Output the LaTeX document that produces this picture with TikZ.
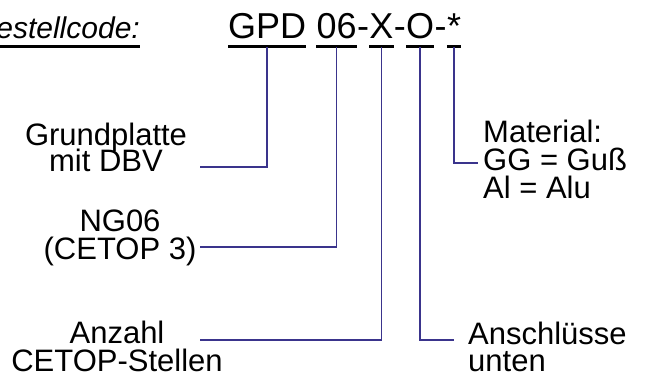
\documentclass[tikz,border=0pt]{standalone}
\usepackage{fontspec}
\setmainfont{Liberation Sans}
\usepackage{tikz}
\usetikzlibrary{positioning, calc}
\definecolor{linkblue}{RGB}{58,52,140}

\begin{document}
\begin{tikzpicture}[x=1pt, y=-1pt,
  code/.style={anchor=base west, inner sep=0pt, font=\fontsize{36}{40}\selectfont},
  lbl/.style={anchor=base, inner sep=0pt, font=\fontsize{31}{34}\selectfont},
  lblr/.style={anchor=base west, inner sep=0pt, font=\fontsize{31}{34}\selectfont},
  uline/.style={line width=3pt},
  conn/.style={linkblue, line width=1.6pt}]

\useasboundingbox (0,0) rectangle (649,379);

% Title and order code
\node[anchor=base east, inner sep=0pt, font=\fontsize{30}{34}\selectfont\itshape] (title) at (140,39) {estellcode:};
\draw[uline] ([yshift=-8pt]title.base west) -- ([yshift=-8pt]title.base east);

\node[code] (gpd) at (228,39) {GPD};
\node[code] (sz) at ([xshift=10pt]gpd.base east) {06};
\node[code] (h1) at (sz.base east) {-};
\node[code] (xx) at (h1.base east) {X};
\node[code] (h2) at (xx.base east) {-};
\node[code] (oo) at (h2.base east) {O};
\node[code] (h3) at (oo.base east) {-};
\node[code] (st) at (h3.base east) {*};

\foreach \n in {gpd,sz,xx,oo,st}
  \draw[uline] ([yshift=-8pt]\n.base west) -- ([yshift=-8pt]\n.base east);

% Left labels
\node[lbl] (grund) at (106,146) {Grundplatte};
\node[lbl] (dbv) at (106,172) {mit DBV};
\node[lbl] (ng) at (120,232) {NG06};
\node[lbl] (cetop) at (120,260) {(CETOP 3)};
\node[lbl] (anz) at (117,344) {Anzahl};
\node[lbl] (stellen) at (117,372) {CETOP-Stellen};

% Right labels
\node[lblr] (mat) at (483,143) {Material:};
\node[lblr] (gg) at (483,171) {GG = Gu\ss};
\node[lblr] (al) at (483,199) {Al = Alu};
\node[lblr] (ansch) at (468,345) {Anschl\"usse};
\node[lblr] (unten) at (468,372) {unten};

% Connector ends
\coordinate (gpdend) at (200,167);
\coordinate (szend) at (200,247);
\coordinate (xxend) at (200,340);
\coordinate (ooend) at (454,340);
\coordinate (stend) at (478,163);

% Connectors
\draw[conn] ([yshift=-8pt]gpd.base) |- (gpdend);
\draw[conn] ([yshift=-8pt]sz.base) |- (szend);
\draw[conn] ([yshift=-8pt]xx.base) |- (xxend);
\draw[conn] ([yshift=-8pt]oo.base) |- (ooend);
\draw[conn] ([yshift=-8pt]st.base) |- (stend);

\end{tikzpicture}
\end{document}
